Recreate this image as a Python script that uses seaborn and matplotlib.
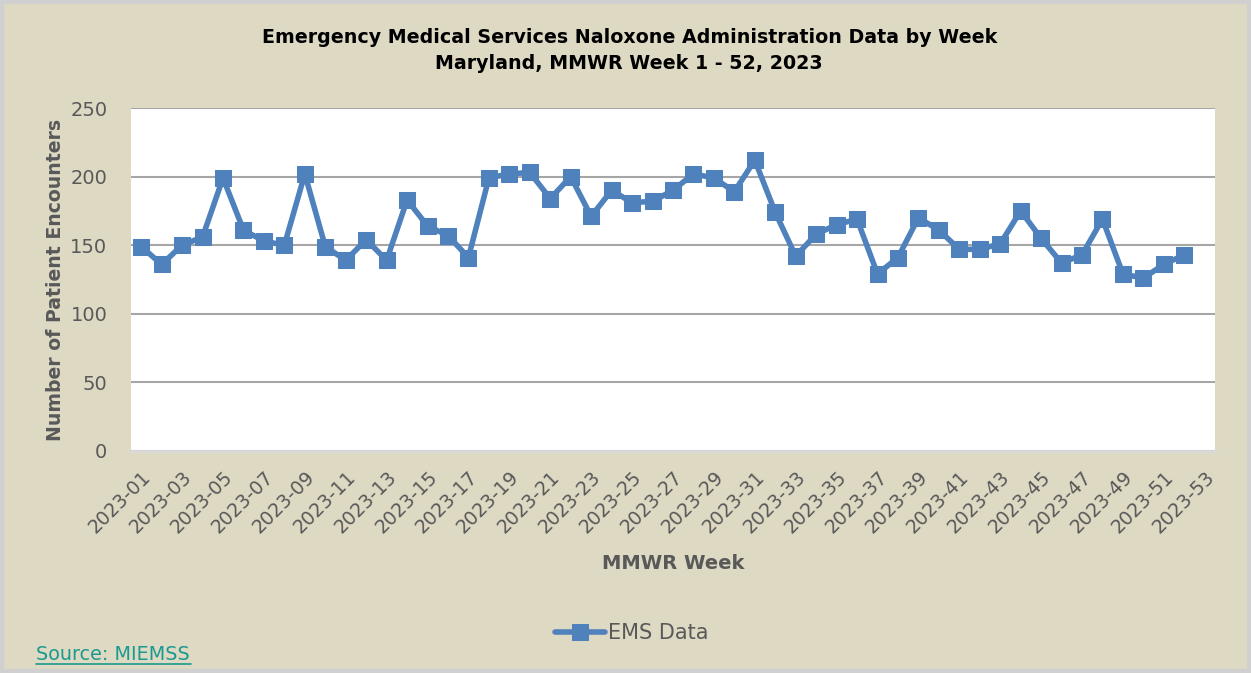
import matplotlib
matplotlib.use("Agg")
import numpy as np
import matplotlib.pyplot as plt
import pandas as pd
import seaborn as sns

# weekly EMS naloxone administrations, MMWR weeks 1-52 of 2023
weeks = list(range(1, 53))
encounters = [149, 136, 150, 156, 199, 161, 153, 150, 202, 149,
              139, 154, 139, 183, 164, 157, 141, 199, 202, 203,
              184, 200, 171, 190, 181, 182, 190, 202, 199, 189,
              212, 174, 142, 158, 165, 169, 129, 141, 170, 161,
              147, 147, 151, 175, 155, 137, 143, 169, 129, 126,
              136, 143]
week_labels = ["2023-%02d" % w for w in range(1, 54, 2)]

df = pd.DataFrame({"idx": np.arange(len(weeks)), "EMS Data": encounters})

bg = "#DDD9C3"
blue = "#4F81BD"
grey_txt = "#595959"

sns.set_theme(style="white")
plt.rcParams["font.family"] = ["DejaVu Sans"]

fig = plt.figure(figsize=(12.51, 6.73), dpi=100, facecolor=bg)
fig.patches.append(plt.Rectangle((0, 0), 1, 1, transform=fig.transFigure,
                                 fill=False, edgecolor="#D0D0D0", lw=6, zorder=-1))
ax = fig.add_axes([0.1047, 0.3299, 0.8665, 0.5096])
ax.set_facecolor("white")

sns.lineplot(data=df, x="idx", y="EMS Data", ax=ax, color=blue, lw=4,
             marker="s", markersize=11, markeredgecolor=blue, label="EMS Data",
             legend=False)

ax.set_xlim(-0.5, 52.5)
ax.set_ylim(0, 250)
ax.set_yticks(range(0, 251, 50))
ax.yaxis.grid(True, color="#A6A6A6", lw=1.5)
ax.set_axisbelow(True)
for s in ["top", "right", "left"]:
    ax.spines[s].set_visible(False)
ax.spines["bottom"].set_color("#D9D9D9")
ax.spines["bottom"].set_linewidth(2)

ax.set_xticks(np.arange(0, 53, 2))
ax.set_xticklabels(week_labels, rotation=45, ha="right", rotation_mode="anchor",
                   fontsize=13.7, color=grey_txt)
ax.set_xticks(np.arange(-0.5, 53, 1), minor=True)
ax.tick_params(axis="x", which="major", length=0, pad=12)
ax.tick_params(axis="x", which="minor", direction="in", length=7,
               color="#D9D9D9", width=1.5)
ax.tick_params(axis="y", length=0, labelsize=14, labelcolor=grey_txt, pad=17)

ax.set_xlabel("MMWR Week", fontsize=14, fontweight="bold", color=grey_txt,
              labelpad=12)
ax.set_ylabel("Number of Patient Encounters", fontsize=13.6, fontweight="bold",
              color=grey_txt, labelpad=4)

fig.text(0.503, 0.945, "Emergency Medical Services Naloxone Administration Data by Week",
         ha="center", va="center", fontsize=13.7, fontweight="bold", color="black")
fig.text(0.503, 0.906, "Maryland, MMWR Week 1 - 52, 2023",
         ha="center", va="center", fontsize=13.7, fontweight="bold", color="black")

handles, labels = ax.get_legend_handles_labels()
fig.legend(handles, labels, loc="center", bbox_to_anchor=(0.505, 0.059),
           frameon=False, fontsize=15, labelcolor=grey_txt,
           handlelength=2.4, handletextpad=0.1)

fig.text(0.029, 0.028, "Source: MIEMSS", ha="left", va="center",
         fontsize=13.8, color="#1A9A8E")
fig.add_artist(plt.Line2D([0.029, 0.153], [0.013, 0.013], color="#1A9A8E", lw=1.2,
                          transform=fig.transFigure))

fig.savefig("out.png", dpi=100, facecolor=bg)
